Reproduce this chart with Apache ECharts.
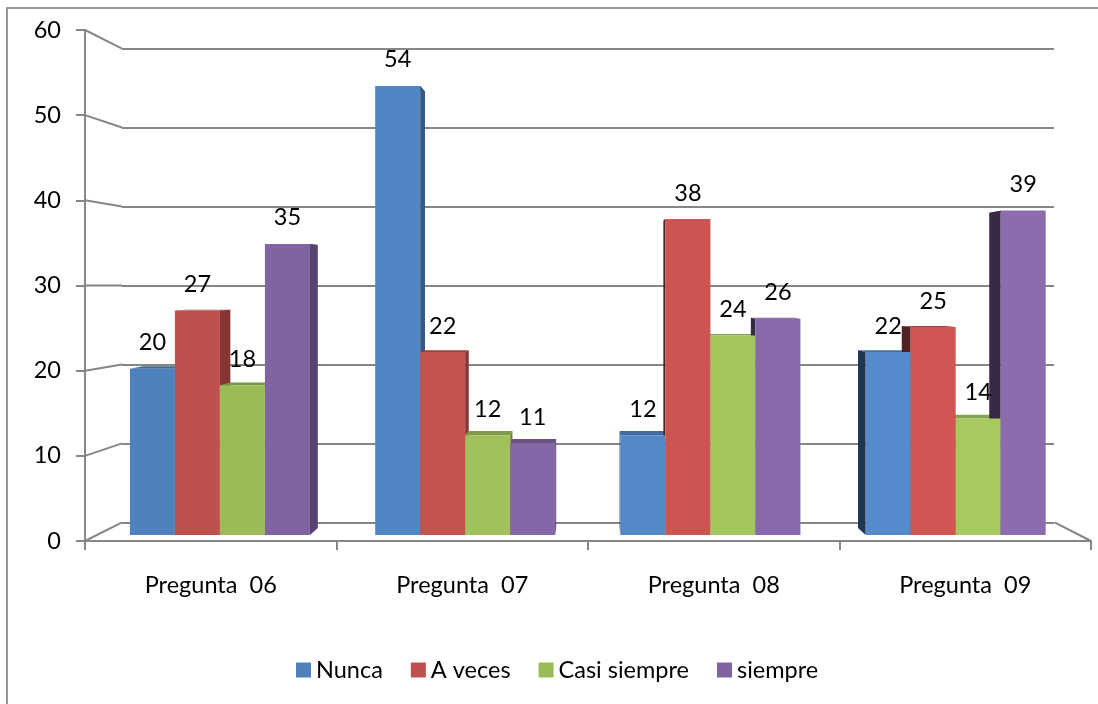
<!DOCTYPE html>
<html><head><meta charset="utf-8">
<style>html,body{margin:0;padding:0;background:#fff}#c{width:1098px;height:704px}</style>
<script src="https://cdn.jsdelivr.net/npm/echarts@6/dist/echarts.min.js"></script>
</head><body><div id="c"></div>
<script>
var categories = ['Pregunta  06','Pregunta  07','Pregunta  08','Pregunta  09'];
var seriesNames = ['Nunca','A veces','Casi siempre','siempre'];
var nunca = [20,54,12,22];
var aVeces = [27,22,38,25];
var casiSiempre = [18,12,24,14];
var siempre = [35,11,26,39];
var yTicks = [0,10,20,30,40,50,60];
var baseColors = ['#4f81bd','#c0504d','#9bbb59','#8064a2'];
var categoryLight = [1,1.03,1.06,1.08];

var allValues = [nunca,aVeces,casiSiempre,siempre];
var VX = 592, VY = 285, WALL_K = 0.927, BAR_K = 0.972, BAR_W = 45;
var FONT = 'Lato', FS = 23.5;
function shade(hex,f){
  var n=parseInt(hex.slice(1),16),r=n>>16,g=(n>>8)&255,b=n&255;
  function c(v){return Math.min(255,Math.round(v*f));}
  return 'rgb('+c(r)+','+c(g)+','+c(b)+')';
}
function proj(p,k){return [VX+(p[0]-VX)*k, VY+(p[1]-VY)*k];}

function renderDepth(params,api){
  var cat=api.value(0), v=api.value(1), s=api.value(2);
  var top=api.coord([cat,v]), base=api.coord([cat,0]);
  var xL=top[0]+(s-2)*BAR_W, xR=xL+BAR_W, y=top[1], yb=base[1];
  var col=baseColors[s], kids=[];
  kids.push({type:'polygon',shape:{points:[[xL,y],[xR,y],proj([xR,y],BAR_K),proj([xL,y],BAR_K)]},
    style:{fill:shade(col,0.8*categoryLight[cat])}});
  var sx=null,f=0.68;
  if(xR<VX){sx=xR;}else if(xL>VX){sx=xL;f=0.42;}
  if(sx!==null){
    kids.push({type:'polygon',shape:{points:[[sx,y],[sx,yb],proj([sx,yb],BAR_K),proj([sx,y],BAR_K)]},
      style:{fill:shade(col,f)}});
  }
  return {type:'group',children:kids};
}
function renderWall(params,api){
  var v=api.value(1), p=api.coord([0,v]), x0=params.coordSys.x, x1=x0+params.coordSys.width;
  var st={stroke:'#868686',lineWidth:2,fill:null};
  var a=[x0,p[1]], b=proj(a,WALL_K), kids=[{type:'line',shape:{x1:a[0],y1:a[1],x2:b[0],y2:b[1]},style:st}];
  if(v===0){
    var c=[x1,p[1]], d=proj(c,WALL_K);
    kids.push({type:'line',shape:{x1:c[0],y1:c[1],x2:d[0],y2:d[1]},style:st});
  }
  return {type:'group',children:kids};
}

var series=[];
seriesNames.forEach(function(name,s){
  series.push({name:name,type:'bar',xAxisIndex:0,yAxisIndex:0,barWidth:BAR_W,barGap:0,z:3,
    itemStyle:{color:baseColors[s]},
    data:allValues[s].map(function(v,c){return {value:v,itemStyle:{color:shade(baseColors[s],categoryLight[c])}};}),
    label:{show:true,position:'top',distance:14,fontFamily:FONT,fontSize:FS,color:'#000'}
  });
});
seriesNames.forEach(function(name,s){
  series.push({name:name+' depth',type:'custom',xAxisIndex:0,yAxisIndex:0,z:2,silent:true,
    renderItem:renderDepth,
    data:allValues[s].map(function(v,c){return [c,v,s];})});
});
series.push({name:'wall',type:'custom',xAxisIndex:2,yAxisIndex:2,z:1,silent:true,clip:false,
  renderItem:renderWall,data:yTicks.map(function(v){return [0,v];})});

var chart=echarts.init(document.getElementById('c'),null,{renderer:'canvas'});
chart.setOption({
  animation:false,backgroundColor:'#fff',
  grid:[
    {left:97.3,width:981,top:36,height:499},
    {left:122,width:932,top:48.5,height:474},
    {left:85,width:1006,top:30,height:511}
  ],
  xAxis:[
    {gridIndex:0,type:'category',data:categories,show:false},
    {gridIndex:1,type:'category',data:categories,show:false},
    {gridIndex:2,type:'category',data:categories,
      axisLine:{lineStyle:{color:'#868686',width:2}},
      axisTick:{show:true,length:9,alignWithLabel:false,lineStyle:{color:'#868686',width:2}},
      axisLabel:{margin:32,fontFamily:FONT,fontSize:FS,color:'#000',interval:0}}
  ],
  yAxis:[
    {gridIndex:0,type:'value',min:0,max:60,interval:10,show:false},
    {gridIndex:1,type:'value',min:0,max:60,interval:10,axisLine:{show:false},axisTick:{show:false},axisLabel:{show:false},
      splitLine:{show:true,lineStyle:{color:'#868686',width:2}}},
    {gridIndex:2,type:'value',min:0,max:60,interval:10,splitLine:{show:false},
      axisLine:{show:true,lineStyle:{color:'#868686',width:2}},
      axisTick:{show:true,length:9,lineStyle:{color:'#868686',width:2}},
      axisLabel:{margin:24,fontFamily:FONT,fontSize:FS,color:'#000'}}
  ],
  legend:{data:seriesNames,left:291,top:653,itemWidth:15,itemHeight:15,itemGap:28,icon:'rect',
    textStyle:{fontFamily:FONT,fontSize:FS,color:'#000'}},
  graphic:[{type:'polyline',silent:true,shape:{points:[[7,704],[7,8],[1098,8]]},style:{stroke:'#969696',lineWidth:2,fill:null}}],
  series:series
});
</script></body></html>
